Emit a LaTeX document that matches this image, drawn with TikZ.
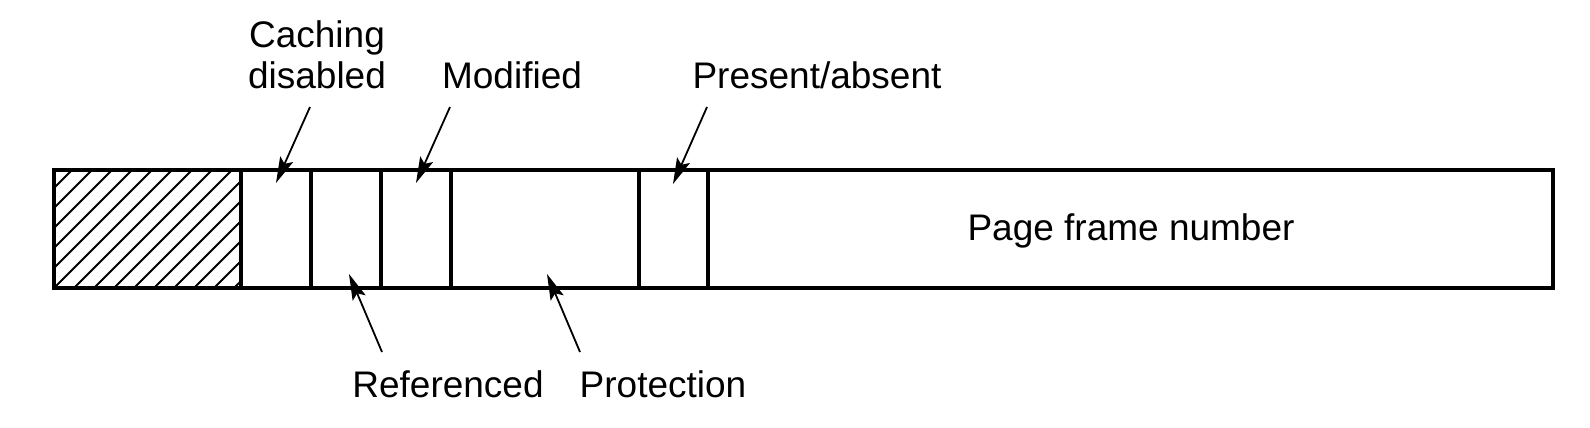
\documentclass[tikz,border=0pt]{standalone}
\usepackage{fontspec}
\setmainfont{Liberation Sans}
\usetikzlibrary{arrows.meta}
\begin{document}
\begin{tikzpicture}[x=0.5pt,y=0.5pt,
  field/.style={line width=1.6pt},
  lbl/.style={font=\fontsize{18.5}{20.5}\selectfont, inner sep=0pt, anchor=base, align=center},
  ptr/.style={line width=0.9pt, -{Stealth[length=13pt,width=7pt,inset=2.5pt]}},
  hatch/.style={line width=0.9pt}]
\useasboundingbox (0,0) rectangle (1590,-428);
% hatched reserved field
\begin{scope}
  \clip (54,-170) rectangle (241,-288);
  \foreach \c in {222,242,...,542}
    \draw[hatch] ({\c-300},-300) -- ({\c-150},-150);
\end{scope}
% outer box and dividers
\draw[field] (54,-170) rectangle (1553,-288);
\foreach \x in {241,311,381,451,639,708}
  \draw[field] (\x,-170) -- (\x,-288);
% labels
\node[lbl] (cd) at (317,-88) {Caching\\disabled};
\node[lbl] (mod) at (512,-88) {Modified};
\node[lbl] (pa) at (817,-88) {Present/absent};
\node[lbl] (pfn) at (1131,-240) {Page frame number};
\node[lbl] (ref) at (448,-397) {Referenced};
\node[lbl] (prot) at (663,-397) {Protection};
% arrow coordinates
\coordinate (cdT) at (310,-107);  \coordinate (cdH) at (276,-183);
\coordinate (modT) at (450,-107); \coordinate (modH) at (416,-183);
\coordinate (paT) at (707,-107);  \coordinate (paH) at (673,-184);
\coordinate (refT) at (382,-352); \coordinate (refH) at (349,-274);
\coordinate (protT) at (580,-352); \coordinate (protH) at (547,-274);
\draw[ptr] (cdT) -- (cdH);
\draw[ptr] (modT) -- (modH);
\draw[ptr] (paT) -- (paH);
\draw[ptr] (refT) -- (refH);
\draw[ptr] (protT) -- (protH);
\end{tikzpicture}
\end{document}
